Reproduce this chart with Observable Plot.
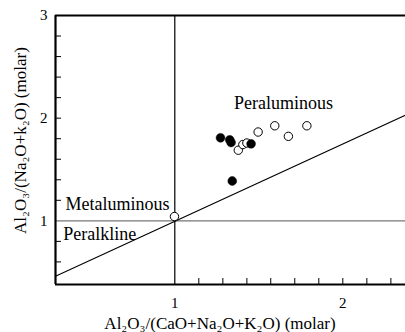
<!DOCTYPE html>
<html>
<head>
<meta charset="utf-8">
<script src="https://cdn.jsdelivr.net/npm/d3@7"></script>
<script src="https://cdn.jsdelivr.net/npm/@observablehq/plot@0.6"></script>
<style>
  html, body { margin: 0; padding: 0; background: #fff; }
</style>
</head>
<body>
<div id="chart"></div>
<script>
// ---- data ----
const xDomain = [0.29, 2.373];
const yDomain = [0.38, 3];

const filledX = [1.272, 1.327, 1.335, 1.454, 1.342];
const filledY = [1.809, 1.789, 1.763, 1.750, 1.388];

const openX = [0.998, 1.378, 1.405, 1.429, 1.496, 1.595, 1.676, 1.786];
const openY = [1.042, 1.688, 1.743, 1.758, 1.865, 1.926, 1.823, 1.926];

const divideX = [0.29, 2.373];
const divideY = [0.46, 2.03];

const xTickLabels = [1, 2];
const xMinorTicks = [1.143, 1.286, 1.429, 1.571, 1.714, 1.857, 2, 2.143, 2.286];
const yTickLabels = [1, 2, 3];
const yMinorTicks = [0.6, 0.8, 1.2, 1.4, 1.6, 1.8, 2, 2.2, 2.4, 2.6, 2.8];

const regionNames = ["Peraluminous", "Metaluminous", "Peralkline"];
const regionX = [1.647, 0.659, 0.553];
const regionY = [2.143, 1.159, 0.871];

const xTitle = "Al\u2082O\u2083/(CaO+Na\u2082O+K\u2082O) (molar)";
const yTitle = "Al\u2082O\u2083/(Na\u2082O+k\u2082O) (molar)";

// ---- tables built from the arrays ----
const filled = filledX.map((x, i) => ({x, y: filledY[i]}));
const open = openX.map((x, i) => ({x, y: openY[i]}));
const divide = divideX.map((x, i) => ({x, y: divideY[i]}));
const regions = regionNames.map((t, i) => ({t, x: regionX[i], y: regionY[i]}));

const chart = Plot.plot({
  width: 405,
  height: 332,
  marginLeft: 55,
  marginRight: 0,
  marginTop: 15,
  marginBottom: 48,
  style: {fontFamily: "Liberation Serif", background: "#fff", color: "#000"},
  x: {domain: xDomain, axis: null},
  y: {domain: yDomain, axis: null},
  marks: [
    // reference lines
    Plot.ruleY([1], {stroke: "#777", strokeWidth: 1.2}),
    Plot.ruleX([1], {stroke: "#000", strokeWidth: 1.2}),
    Plot.line(divide, {x: "x", y: "y", stroke: "#000", strokeWidth: 1.1}),
    // minor ticks pointing inward
    Plot.ruleX(xMinorTicks, {y1: yDomain[0], y2: yDomain[0], insetBottom: 6, stroke: "#000", strokeWidth: 1}),
    Plot.ruleY(yMinorTicks, {x1: xDomain[0], x2: xDomain[0], insetRight: -6, stroke: "#000", strokeWidth: 1}),
    // tick labels
    Plot.axisX(xTickLabels, {anchor: "bottom", tickSize: 0, tickPadding: 13, fontSize: 15, label: null, fill: "#000", tickFormat: d => String(d)}),
    Plot.axisY(yTickLabels, {anchor: "left", tickSize: 0, tickPadding: 8, fontSize: 15, label: null, fill: "#000", tickFormat: d => String(d)}),
    // frame (left, top, bottom)
    Plot.ruleX([xDomain[0]], {stroke: "#000", strokeWidth: 2.2}),
    Plot.ruleY([yDomain[1]], {stroke: "#000", strokeWidth: 2.2}),
    Plot.ruleY([yDomain[0]], {stroke: "#000", strokeWidth: 2.2}),
    // data points
    Plot.dot(open, {x: "x", y: "y", r: 4.2, stroke: "#000", fill: "#fff", strokeWidth: 1}),
    Plot.dot(filled, {x: "x", y: "y", r: 4.4, fill: "#000", stroke: "#000", strokeWidth: 0.5}),
    // region labels
    Plot.text(regions, {x: "x", y: "y", text: "t", fontSize: 18, fill: "#000", textAnchor: "middle"}),
    // axis titles
    Plot.text([xTitle], {x: [1.269], frameAnchor: "bottom", dy: 39, fontSize: 17, fill: "#000", textAnchor: "middle", lineAnchor: "middle"}),
    Plot.text([yTitle], {y: [1.782], frameAnchor: "left", dx: -35, rotate: -90, fontSize: 17, fill: "#000", textAnchor: "middle", lineAnchor: "middle"})
  ]
});

document.getElementById("chart").appendChild(chart);
</script>
</body>
</html>
